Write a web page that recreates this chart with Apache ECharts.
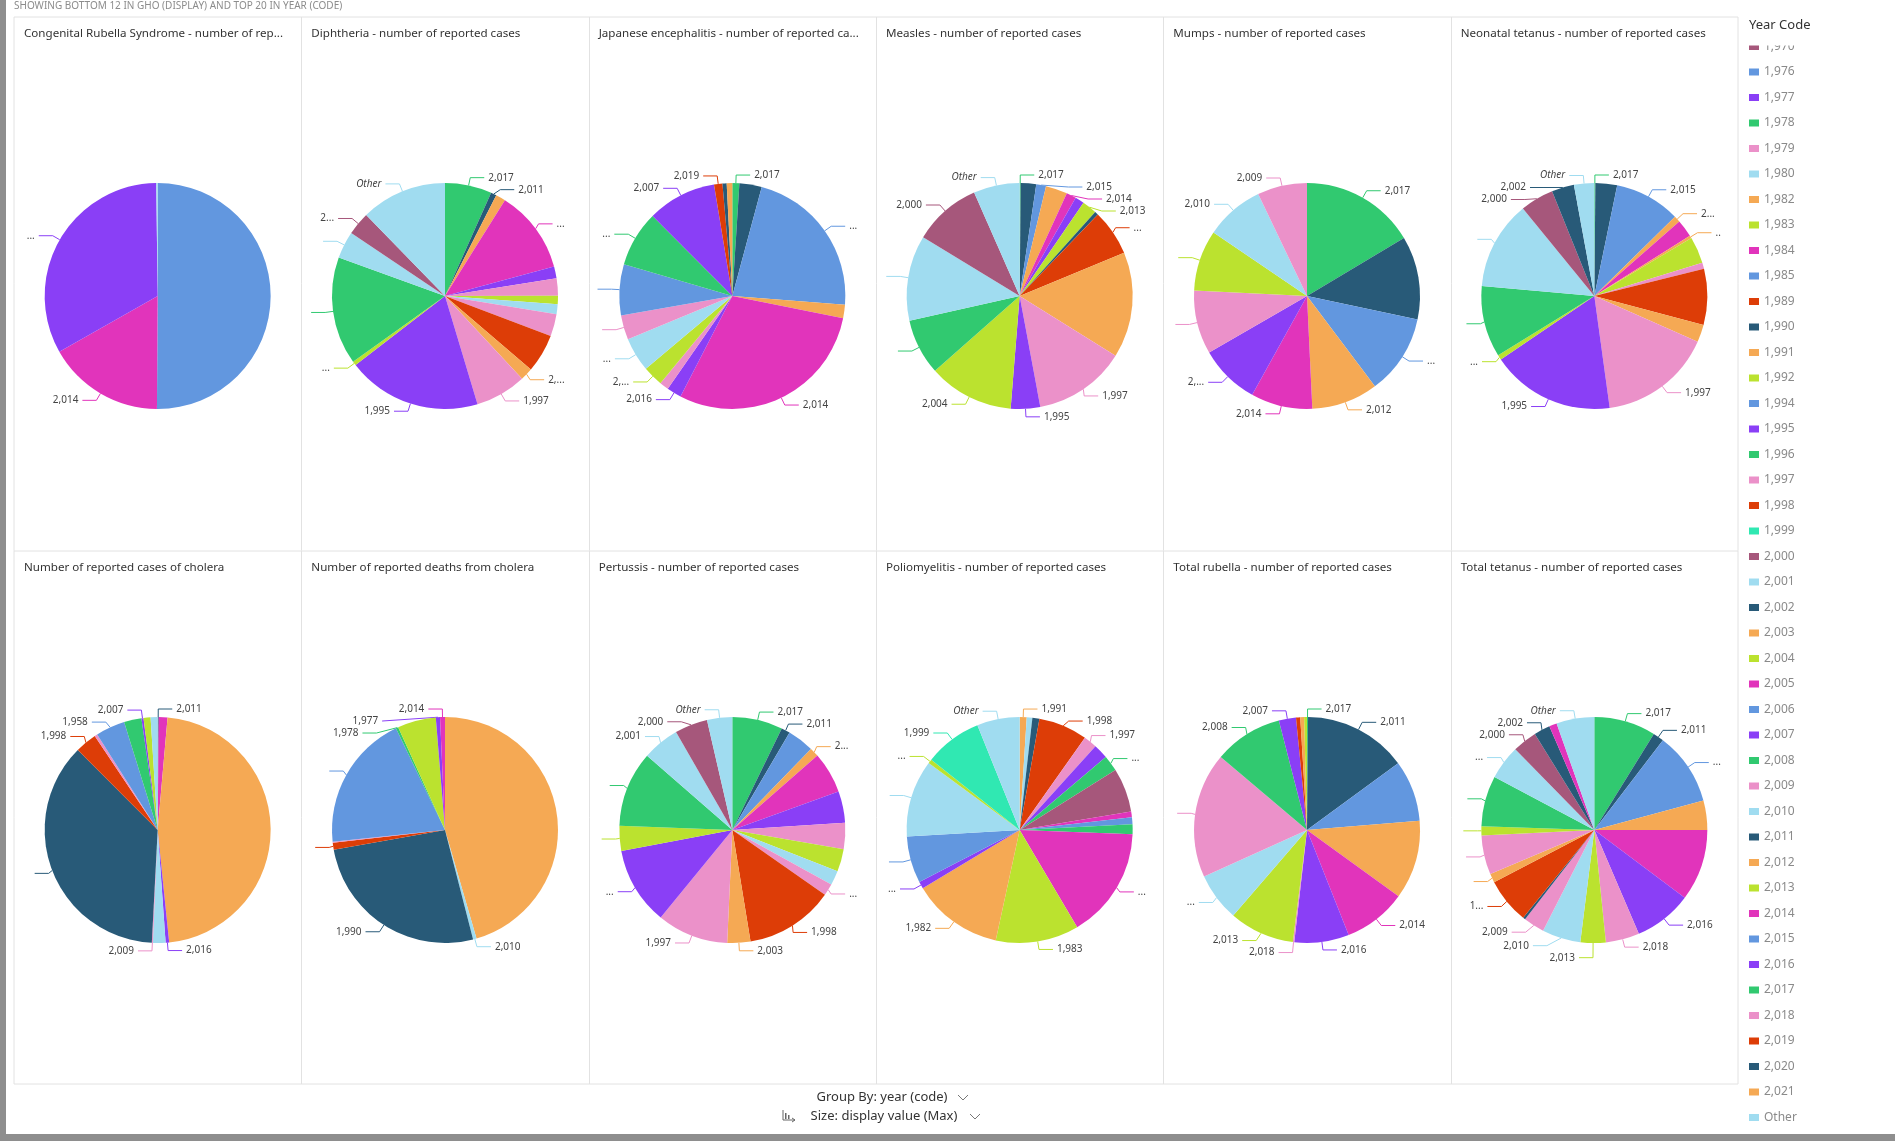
<!DOCTYPE html>
<html>
<head>
<meta charset="utf-8">
<title>ECharts</title>
<script src="https://cdn.jsdelivr.net/npm/echarts@6/dist/echarts.min.js"></script>
</head>
<body style="margin:0;background:#fff;">
<div id="main" style="width:1895px;height:1141px;"></div>
<script type="text/javascript">
// panel titles, in grid order
var titles = [
    'Congenital Rubella Syndrome - number of rep...',
    'Diphtheria - number of reported cases',
    'Japanese encephalitis - number of reported ca...',
    'Measles - number of reported cases',
    'Mumps - number of reported cases',
    'Neonatal tetanus - number of reported cases',
    'Number of reported cases of cholera',
    'Number of reported deaths from cholera',
    'Pertussis - number of reported cases',
    'Poliomyelitis - number of reported cases',
    'Total rubella - number of reported cases',
    'Total tetanus - number of reported cases'
];

// slices clockwise from 12 o'clock: year, share (%), label as shown ('' = no label, ' ' = line only)
var crsYears = ['2,015', '2,014', '2,016', '2,010'];
var crsValues = [50.1, 16.7, 33.0, 0.2];
var crsLabels = ['', '2,014', '...', ''];

var diphYears = ['2,017', '2,011', '2,012', '2,014', '2,016', '2,018', '2,013', '2,010', '2,009', '1,998', '2,003', '1,997', '1,995', '2,004', '1,996', '2,001', '2,000', 'Other'];
var diphValues = [6.7, 0.8, 1.4, 11.9, 1.7, 2.5, 1.2, 1.4, 3.2, 5.5, 1.8, 7.3, 19.2, 0.6, 15.4, 3.9, 3.3, 12.3];
var diphLabels = ['2,017', '2,011', '', '...', '', '', '', '', '', '', '2,...', '1,997', '1,995', '...', ' ', ' ', '2...', 'Other'];

var jeYears = ['2,017', '2,020', '2,015', '2,021', '2,014', '2,016', '2,018', '2,013', '2,010', '2,009', '2,006', '2,008', '2,007', '2,019', '2,011', '2,012'];
var jeValues = [1.0, 3.2, 22.1, 1.9, 29.5, 2.1, 1.3, 2.9, 4.9, 3.5, 7.3, 8.0, 9.9, 1.2, 0.6, 0.8];
var jeLabels = ['2,017', '', '...', '', '2,014', '2,016', '', '2,...', '...', ' ', ' ', '...', '2,007', '2,019', '', ''];

var measYears = ['2,017', '2,020', '2,015', '2,012', '2,014', '2,016', '2,013', '2,002', '1,989', '2,003', '1,997', '1,995', '2,004', '2,008', '1,980', '2,000', 'Other'];
var measValues = [0.15, 2.2, 1.4, 3.1, 1.4, 1.3, 2.1, 0.5, 6.6, 15.1, 13.2, 4.2, 12.2, 8.0, 12.2, 9.7, 6.6];
var measLabels = ['2,017', '', '2,015', '', '2,014', '', '2,013', '', '...', '', '1,997', '1,995', '2,004', ' ', ' ', '2,000', 'Other'];

var mumpsYears = ['2,017', '2,020', '2,015', '2,012', '2,014', '2,016', '2,018', '2,013', '2,010', '2,009'];
var mumpsValues = [16.4, 11.9, 11.4, 9.5, 8.8, 8.6, 9.1, 8.7, 8.4, 7.1];
var mumpsLabels = ['2,017', '', '...', '2,012', '2,014', '2,...', ' ', ' ', '2,010', '2,009'];

var neoYears = ['2,017', '2,011', '2,015', '2,021', '2,014', '2,012', '2,013', '2,018', '1,998', '1,991', '1,997', '1,995', '1,992', '1,996', '2,001', '2,000', '2,002', 'Other'];
var neoValues = [0.15, 3.1, 9.4, 0.9, 2.5, 0.4, 3.8, 0.9, 8.0, 2.5, 16.2, 17.7, 0.7, 10.2, 12.7, 4.8, 3.2, 2.9];
var neoLabels = ['2,017', '', '2,015', '2...', '', '..', '', '', '', '', '1,997', '1,995', '...', ' ', ' ', '2,000', '2,002', 'Other'];

var choleraYears = ['2,011', '2,014', '2,012', '2,016', '2,010', '2,009', '1,990', '1,998', '1,979', '1,958', '2,008', '2,007', '2,013', '2,001'];
var choleraValues = [0.15, 1.25, 47.0, 0.5, 1.8, 0.15, 36.7, 3.1, 0.4, 4.2, 2.5, 0.3, 1.0, 1.0];
var choleraLabels = ['2,011', '', '', '2,016', '', '2,009', ' ', '1,998', '', '1,958', '', '2,007', '', ''];

var deathsYears = ['2,012', '2,010', '1,990', '1,989', '1,979', '1,976', '1,978', '1,992', '1,977', '2,014'];
var deathsValues = [45.5, 0.5, 26.2, 1.0, 0.15, 19.5, 0.35, 5.5, 0.6, 0.7];
var deathsLabels = ['', '2,010', '1,990', ' ', '', ' ', '1,978', '', '1,977', '2,014'];

var pertYears = ['2,017', '2,011', '2,015', '2,012', '2,014', '2,016', '2,018', '2,013', '2,010', '2,009', '1,998', '2,003', '1,997', '1,995', '2,004', '2,008', '2,001', '2,000', 'Other'];
var pertValues = [7.2, 1.25, 3.8, 1.3, 5.9, 4.5, 3.75, 3.25, 2.05, 1.7, 12.7, 3.3, 10.2, 11.1, 3.55, 10.8, 5.3, 4.7, 3.6];
var pertLabels = ['2,017', '2,011', '', '2...', '', '', '', '', '', '...', '1,998', '2,003', '1,997', '...', ' ', ' ', '2,001', '2,000', 'Other'];

var polioYears = ['1,991', '2,010', '1,990', '1,998', '1,997', '1,995', '1,996', '1,970', '2,005', '1,994', '1,978', '1,984', '1,983', '1,982', '1,977', '1,985', '1,980', '1,992', '1,999', 'Other'];
var polioValues = [1.0, 0.8, 1.0, 7.0, 1.9, 2.1, 2.3, 6.3, 0.8, 1.0, 1.4, 15.9, 11.9, 13.0, 1.0, 6.7, 11.0, 0.6, 8.2, 6.1];
var polioLabels = ['1,991', '', '', '1,998', '1,997', '', '...', '', '', '', '', '...', '1,983', '1,982', '...', ' ', ' ', '...', '1,999', 'Other'];

var rubYears = ['2,017', '2,011', '2,015', '2,012', '2,014', '2,016', '2,018', '2,013', '2,010', '2,009', '2,008', '2,007', '2,019', '2,021', '2,004'];
var rubValues = [0.15, 14.75, 8.75, 11.25, 9.0, 7.8, 0.2, 9.3, 6.9, 17.9, 9.8, 2.45, 0.6, 0.55, 0.4];
var rubLabels = ['2,017', '2,011', '', '', '2,014', '2,016', '2,018', '2,013', '...', ' ', '2,008', '2,007', '', '', ''];

var tetYears = ['2,017', '2,011', '2,015', '2,012', '2,014', '2,016', '2,018', '2,013', '2,010', '2,009', '2,020', '1,998', '2,003', '1,997', '2,004', '2,008', '2,001', '2,000', '2,002', '2,005', 'Other'];
var tetValues = [8.8, 1.55, 10.4, 4.2, 10.2, 8.3, 4.8, 3.6, 5.5, 3.0, 0.35, 6.5, 1.25, 5.6, 1.3, 7.2, 4.9, 3.5, 2.3, 1.1, 5.4];
var tetLabels = ['2,017', '2,011', '...', '', '', '2,016', '2,018', '2,013', '2,010', '2,009', '', '1...', ' ', ' ', ' ', ' ', '...', '2,000', '2,002', '', 'Other'];

// legend entries visible in the (scrolled) legend
var legendYears = ['1,970', '1,976', '1,977', '1,978', '1,979', '1,980', '1,982', '1,983', '1,984', '1,985', '1,989', '1,990', '1,991', '1,992', '1,994', '1,995', '1,996', '1,997', '1,998', '1,999',
    '2,000', '2,001', '2,002', '2,003', '2,004', '2,005', '2,006', '2,007', '2,008', '2,009', '2,010', '2,011', '2,012', '2,013', '2,014', '2,015', '2,016', '2,017', '2,018', '2,019', '2,020', '2,021', 'Other'];

var C = {
    mauve: '#a6577b', blue: '#6297df', purple: '#8a3ff6', green: '#31c970', pink: '#eb91c9', light: '#a0dcf0',
    orange: '#f5a954', lime: '#bbe22f', magenta: '#e134bb', red: '#dd3d07', teal: '#285a78', aqua: '#30e8b2'
};
var yearColors = {
    '1,958': C.blue, '1,970': C.mauve, '1,976': C.blue, '1,977': C.purple, '1,978': C.green, '1,979': C.pink, '1,980': C.light,
    '1,982': C.orange, '1,983': C.lime, '1,984': C.magenta, '1,985': C.blue, '1,989': C.red, '1,990': C.teal, '1,991': C.orange,
    '1,992': C.lime, '1,994': C.blue, '1,995': C.purple, '1,996': C.green, '1,997': C.pink, '1,998': C.red, '1,999': C.aqua,
    '2,000': C.mauve, '2,001': C.light, '2,002': C.teal, '2,003': C.orange, '2,004': C.lime, '2,005': C.magenta, '2,006': C.blue,
    '2,007': C.purple, '2,008': C.green, '2,009': C.pink, '2,010': C.light, '2,011': C.teal, '2,012': C.orange, '2,013': C.lime,
    '2,014': C.magenta, '2,015': C.blue, '2,016': C.purple, '2,017': C.green, '2,018': C.pink, '2,019': C.red, '2,020': C.teal,
    '2,021': C.orange, 'Other': C.light
};

var pies = [
    [crsYears, crsValues, crsLabels], [diphYears, diphValues, diphLabels], [jeYears, jeValues, jeLabels],
    [measYears, measValues, measLabels], [mumpsYears, mumpsValues, mumpsLabels], [neoYears, neoValues, neoLabels],
    [choleraYears, choleraValues, choleraLabels], [deathsYears, deathsValues, deathsLabels], [pertYears, pertValues, pertLabels],
    [polioYears, polioValues, polioLabels], [rubYears, rubValues, rubLabels], [tetYears, tetValues, tetLabels]
];

var FONT = '"Noto Sans", "Open Sans", sans-serif';
var panelL = 14, panelR = 1738, panelT = 17, panelM = 551, panelB = 1084;
var colW = (panelR - panelL) / 6;
var rowCY = [296, 830];

function buildData(years, values, labels) {
    return years.map(function (y, i) {
        var txt = labels[i];
        return {
            name: y,
            value: values[i],
            itemStyle: { color: yearColors[y] },
            label: { show: txt !== '', formatter: txt, fontStyle: y === 'Other' ? 'italic' : 'normal' },
            labelLine: { show: txt !== '' }
        };
    });
}

var series = [], titleList = [];
pies.forEach(function (p, i) {
    var col = i % 6, row = Math.floor(i / 6);
    var x0 = panelL + col * colW;
    series.push({
        type: 'pie',
        radius: 113,
        center: [x0 + colW / 2, rowCY[row]],
        startAngle: 90,
        clockwise: true,
        avoidLabelOverlap: true,
        animation: false,
        emphasis: { disabled: true },
        label: { color: '#444', fontSize: 10, fontFamily: FONT, distanceToLabelLine: 4 },
        labelLine: { length: 8, length2: 14, lineStyle: { width: 1 } },
        data: buildData(p[0], p[1], p[2])
    });
    titleList.push({
        text: titles[i],
        left: x0 + 10,
        top: (row === 0 ? panelT : panelM) + 11,
        padding: 0,
        textStyle: { fontSize: 11.6, fontWeight: 'normal', color: '#333', fontFamily: FONT }
    });
});

var graphics = [
    { type: 'rect', shape: { x: 0, y: 0, width: 6, height: 1141 }, style: { fill: '#8e8e8e' } },
    { type: 'rect', shape: { x: 0, y: 1134, width: 1895, height: 7 }, style: { fill: '#8e8e8e' } },
    { type: 'text', x: 14, y: 6, style: { text: 'SHOWING BOTTOM 12 IN GHO (DISPLAY) AND TOP 20 IN YEAR (CODE)', font: '10px ' + FONT, fill: '#8c8c8c', verticalAlign: 'middle', textVerticalAlign: 'middle' } },
    { type: 'rect', shape: { x: panelL, y: panelT, width: panelR - panelL, height: panelB - panelT }, style: { fill: 'none', stroke: '#e2e2e2', lineWidth: 1 } },
    { type: 'line', shape: { x1: panelL, y1: panelM, x2: panelR, y2: panelM }, style: { stroke: '#e2e2e2', lineWidth: 1 } }
];
for (var k = 1; k < 6; k++) {
    var xx = Math.round(panelL + k * colW) + 0.5;
    graphics.push({ type: 'line', shape: { x1: xx, y1: panelT, x2: xx, y2: panelB }, style: { stroke: '#e2e2e2', lineWidth: 1 } });
}
// legend is scrolled: hide the top half of the first entry
graphics.push({ type: 'rect', z: 100, shape: { x: 1740, y: 0, width: 155, height: 45.5 }, style: { fill: '#fff' } });
graphics.push({ type: 'text', z: 101, x: 1749, y: 25, style: { text: 'Year Code', font: '13px ' + FONT, fill: '#333', verticalAlign: 'middle', textVerticalAlign: 'middle' } });
// footer
graphics.push({ type: 'text', x: 882, y: 1097, style: { text: 'Group By: year (code)', font: '13px ' + FONT, fill: '#333', align: 'center', textAlign: 'center', verticalAlign: 'middle', textVerticalAlign: 'middle' } });
graphics.push({ type: 'polyline', shape: { points: [[958, 1095], [963, 1100], [968, 1095]] }, style: { stroke: '#777', fill: 'none', lineWidth: 1 } });
graphics.push({ type: 'text', x: 884, y: 1116, style: { text: 'Size: display value (Max)', font: '13px ' + FONT, fill: '#333', align: 'center', textAlign: 'center', verticalAlign: 'middle', textVerticalAlign: 'middle' } });
graphics.push({ type: 'polyline', shape: { points: [[970, 1114], [975, 1119], [980, 1114]] }, style: { stroke: '#777', fill: 'none', lineWidth: 1 } });
graphics.push({ type: 'polyline', shape: { points: [[783, 1110], [783, 1120], [795, 1120]] }, style: { stroke: '#666', fill: 'none', lineWidth: 1 } });
graphics.push({ type: 'rect', shape: { x: 785, y: 1113, width: 1.5, height: 6 }, style: { fill: '#666' } });
graphics.push({ type: 'rect', shape: { x: 788, y: 1115, width: 1.5, height: 4 }, style: { fill: '#666' } });
graphics.push({ type: 'polyline', shape: { points: [[792, 1118], [795, 1120], [792, 1122]] }, style: { stroke: '#666', fill: 'none', lineWidth: 1 } });

var myChart = echarts.init(document.getElementById('main'));
myChart.setOption({
    animation: false,
    title: titleList,
    legend: {
        orient: 'vertical',
        left: 1749,
        top: 39.5,
        padding: 0,
        itemWidth: 10,
        itemHeight: 7,
        itemGap: 11.5,
        icon: 'rect',
        selectedMode: false,
        data: legendYears,
        textStyle: { color: '#8a8a8a', fontSize: 12, lineHeight: 14, fontFamily: FONT }
    },
    graphic: { elements: graphics },
    series: series
});
</script>
</body>
</html>
